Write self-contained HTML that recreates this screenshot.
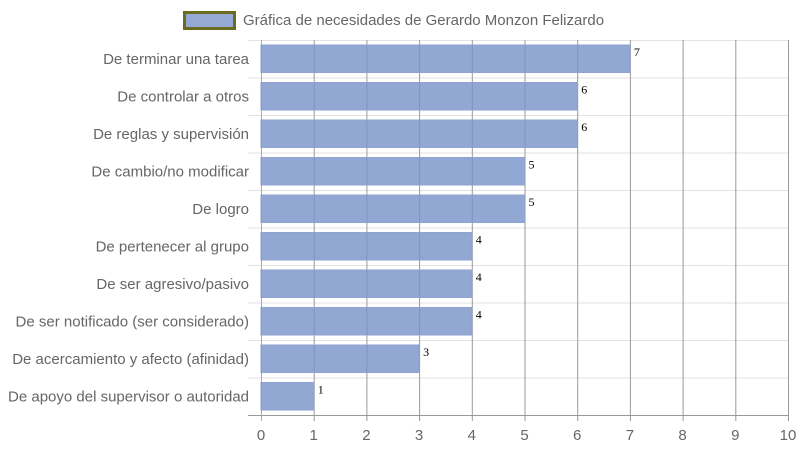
<!DOCTYPE html>
<html><head><meta charset="utf-8"><style>
body{margin:0;background:#fff;}
svg{display:block;font-family:"Liberation Sans",sans-serif;}
</style></head><body>
<svg id="chart" width="800" height="450">
<g id="legend">
<rect x="184.5" y="12.5" width="50" height="16" fill="#95a9d4" stroke="#6b6b20" stroke-width="3"/>
<text x="243" y="25" font-size="15" fill="#666">Gráfica de necesidades de Gerardo Monzon Felizardo</text>
</g>
<g id="grid"></g><g id="bars"></g><g id="labels"></g>
</svg>
<script>
const categories=["De terminar una tarea","De controlar a otros","De reglas y supervisión","De cambio/no modificar","De logro","De pertenecer al grupo","De ser agresivo/pasivo","De ser notificado (ser considerado)","De acercamiento y afecto (afinidad)","De apoyo del supervisor o autoridad"];
const values=[7,6,6,5,5,4,4,4,3,1];
const xTicks=[0,1,2,3,4,5,6,7,8,9,10];
const NS="http://www.w3.org/2000/svg";
const L=261,R=788,T=40,B=415,xMax=10;
const x=v=>L+(R-L)*v/xMax;
const rowH=(B-T)/categories.length;
const y=i=>T+rowH*i;
function mk(tag,attrs,parent,text){const e=document.createElementNS(NS,tag);for(const k in attrs)e.setAttribute(k,attrs[k]);if(text!==undefined)e.textContent=text;parent.appendChild(e);return e;}
const grid=document.getElementById('grid'),bars=document.getElementById('bars'),labels=document.getElementById('labels');
for(let i=0;i<=categories.length;i++){
  const l=mk('line',{x1:248,x2:R,y1:y(i)+0.5,y2:y(i)+0.5,stroke:i==categories.length?'#999':'#e2e2e2','stroke-width':1},grid);
  
  
}
xTicks.forEach(t=>{
  const l=mk('line',{x1:x(t)+0.5,x2:x(t)+0.5,y1:T,y2:B+6,stroke:t==0?'#aaa':'#999','stroke-width':1},grid);
  
  
  const tx=mk('text',{x:x(t),y:440,'font-size':15,fill:'#666','text-anchor':'middle'},labels,String(t));
  
  
});
categories.forEach((c,i)=>{
  const by=y(i)+5;
  const r=mk('rect',{x:L,y:by,width:x(values[i])-L,height:rowH-10,fill:'rgba(120,145,200,0.8)',stroke:'#8ea3cf','stroke-width':1},bars);
  
  
  const cl=mk('text',{x:249,y:y(i)+rowH/2+5,'font-size':15,fill:'#666','text-anchor':'end'},labels,c);
  
  
  const vl=mk('text',{x:x(values[i])+4,y:by+11,'font-size':12,fill:'#000','font-family':'Liberation Serif, serif'},labels,String(values[i]));
  
  
});
</script>
</body></html>
